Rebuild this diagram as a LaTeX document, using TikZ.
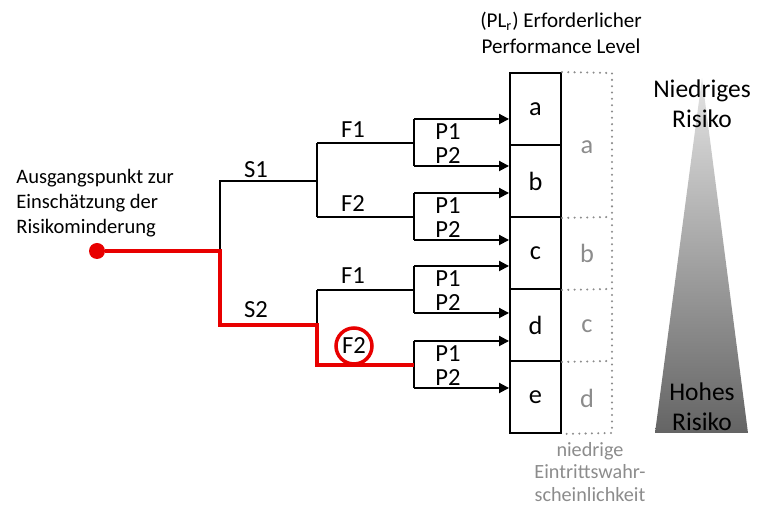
\documentclass[tikz,border=0pt]{standalone}
\usepackage{fontspec}
\setmainfont{Carlito}
\usetikzlibrary{arrows.meta}

\definecolor{pathred}{RGB}{232,0,0}
\definecolor{softgrey}{RGB}{140,140,140}

\tikzset{
  branch/.style={line width=1.1pt},
  redpath/.style={draw=pathred, line width=2.4pt},
  arr/.style={branch, -{Triangle[length=2mm,width=2mm]}},
  lbl/.style={inner sep=0, font=\fontsize{14}{16}\selectfont},
  plbox/.style={draw, line width=1.1pt, minimum width=1.02cm, minimum height=1.44cm,
    font=\fontsize{15}{17}\selectfont},
  greylbl/.style={inner sep=0, text=softgrey, font=\fontsize{15}{17}\selectfont},
  dots/.style={draw=softgrey, line width=1.3pt, dash pattern=on 0pt off 3.6pt, line cap=round},
}

\begin{document}
\begin{tikzpicture}[x=0.02cm, y=-0.02cm]
    \useasboundingbox (0,0) rectangle (771,519);

    % Title
    \node[align=center, inner sep=0, font=\fontsize{12}{14.7}\selectfont]
    (title) at (561,33) {(PL\textsubscript{r}) Erforderlicher\\Performance Level};

    % Start
    \node[align=left, anchor=west, inner sep=0, font=\fontsize{11.7}{14.2}\selectfont]
    (starttext) at (16,203) {Ausgangspunkt zur\\Einschätzung der\\Risikominderung};
    \node[circle, fill=pathred, inner sep=0, minimum size=0.32cm] (start) at (97,251) {};

    % Performance levels
    \foreach \n [count=\i] in {a,b,c,d,e}
        \node[plbox] (\n) at (535.5,{109+72*(\i-1)}) {\n};

    % Junctions
    \coordinate (root) at (220,251);
    \coordinate (s1) at (220,181);
    \coordinate (s2) at (220,325);
    \coordinate (j1) at (317,181);
    \coordinate (j2) at (317,325);
    \coordinate (j1a) at (317,143);
    \coordinate (j1b) at (317,217);
    \coordinate (j2a) at (317,290);
    \coordinate (j2b) at (317,365);
    \coordinate (k1) at (414,143);
    \coordinate (k2) at (414,217);
    \coordinate (k3) at (414,290);
    \coordinate (k4) at (414,365);

    % Tree
    \draw[branch] (root) -- (s1) -- (j1);
    \draw[branch] (j1a) -- (j1b);
    \draw[branch] (j1a) -- (k1);
    \draw[branch] (j1b) -- (k2);
    \draw[branch] (j2a) -- (j2);
    \draw[branch] (j2a) -- (k3);

    \node[lbl] (s1l) at (256,170) {S1};
    \node[lbl] (s2l) at (256,310) {S2};
    \node[lbl] (f1a) at (353,130) {F1};
    \node[lbl] (f2a) at (353,204) {F2};
    \node[lbl] (f1b) at (353,276) {F1};

    % P branches
    \foreach \k/\y/\u/\v in {1/143/a/b, 2/217/b/c, 3/290/c/d, 4/365/d/e} {
        \coordinate (p\k1) at (414,\y-24);
        \coordinate (p\k2) at (414,\y+23);
        \draw[branch] (p\k1) -- (p\k2);
        \draw[arr] (p\k1) -- (p\k1 -| \u.west);
        \draw[arr] (p\k2) -- (p\k2 -| \v.west);
        \node[lbl] (lp\k1) at (448,\y-11) {P1};
        \node[lbl] (lp\k2) at (448,\y+13) {P2};
    }

    % Chosen path
    \draw[redpath] (start) -- (root) -- (s2) -- (j2) -- (j2b) -- (k4);
    \node[lbl, draw=pathred, circle, line width=2pt, minimum size=0.72cm]
    (f2b) at (354,346) {F2};

    % Probability column
    \draw[dots] (a.north east) -- (612,73) -- (612,433) -- (e.south east);
    \draw[dots] (b.south east) -- (612,217);
    \draw[dots] (c.south east) -- (612,289);
    \draw[dots] (d.south east) -- (612,361);
    \node[greylbl] (ga) at (587,147) {a};
    \node[greylbl] (gb) at (587,253) {b};
    \node[greylbl] (gc) at (587,326) {c};
    \node[greylbl] (gd) at (587,398) {d};
    \node[align=center, inner sep=0, text=softgrey, font=\fontsize{11.5}{12.8}\selectfont]
    (prob) at (590,472) {niedrige\\Eintrittswahr-\\scheinlichkeit};

    % Risk
    \shade[top color={rgb,255:red,228;green,228;blue,228},
    bottom color={rgb,255:red,100;green,100;blue,100}]
    (702,78) -- (748,433) -- (655,433) -- cycle;
    \node[align=center, inner sep=0, font=\fontsize{14.5}{17}\selectfont]
    (low) at (702,104) {Niedriges\\Risiko};
    \node[align=center, inner sep=0, font=\fontsize{14.5}{17}\selectfont]
    (high) at (702,407) {Hohes\\Risiko};

\end{tikzpicture}
\end{document}
